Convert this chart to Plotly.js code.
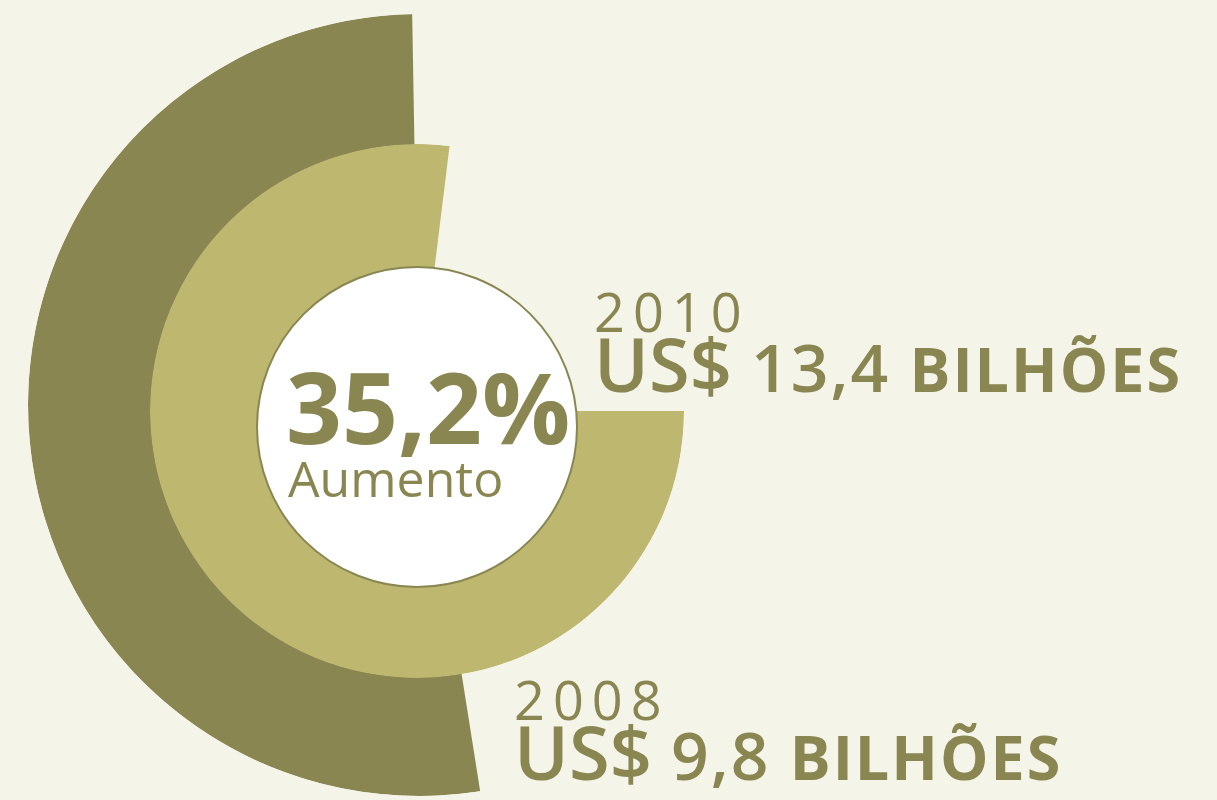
<!DOCTYPE html>
<html>
<head>
<meta charset="utf-8">
<script src="https://cdn.plot.ly/plotly-3.0.1.min.js"></script>
<style>
  html, body { margin: 0; padding: 0; background: #F4F4E9; }
  #chart { width: 1217px; height: 800px; }
</style>
</head>
<body>
<div id="chart"></div>
<script>
// ---- data ----
const years = ['2008', '2010'];
const valuesBillions = [9.8, 13.4];
const amountLabels = ['9,8', '13,4'];
const currencyLabel = 'US$';
const unitLabel = 'BILHÕES';
const sweepDegrees = [188, 277];      // angular extent of each arc
const increaseLabel = '35,2%';
const increaseCaption = 'Aumento';

// ---- styles ----
const darkOlive = '#8A8652';
const lightOlive = '#BDB770';
const bg = '#F4F4E9';
const font = 'Open Sans, Noto Sans, sans-serif';

const hiddenRadial = { visible: false, range: [0, 1] };

const traces = [
  {
    type: 'barpolar',
    subplot: 'polar',
    name: years[0],
    r: [1],
    base: [0],
    theta: [sweepDegrees[0] / 2],
    width: [sweepDegrees[0]],
    customdata: [valuesBillions[0]],
    marker: { color: darkOlive, line: { width: 0 } },
    hoverinfo: 'skip'
  },
  {
    type: 'barpolar',
    subplot: 'polar2',
    name: years[1],
    r: [1],
    base: [0],
    theta: [sweepDegrees[1] / 2],
    width: [sweepDegrees[1]],
    customdata: [valuesBillions[1]],
    marker: { color: lightOlive, line: { width: 0 } },
    hoverinfo: 'skip'
  },
  {
    type: 'scatterpolar',
    subplot: 'polar3',
    r: [], theta: [],
    mode: 'markers',
    hoverinfo: 'skip'
  }
];

function valueText(i) {
  return '<span style="font-size:74px;font-weight:600">' + currencyLabel + '</span>' +
         '<span style="font-size:66px;font-weight:600;letter-spacing:2px"> ' + amountLabels[i] + ' </span>' +
         '<span style="font-size:61px;font-weight:700;letter-spacing:2px">' + unitLabel + '</span>';
}

const annotations = [
  { text: '<b>' + increaseLabel + '</b>', x: 284 / 1217, y: 0.492, font: { size: 98, color: darkOlive, family: font } },
  { text: increaseCaption, x: 286 / 1217, y: 0.402, font: { size: 50, color: darkOlive, family: font } },
  { text: '<span style="letter-spacing:8px">' + years[1] + '</span>', x: 592 / 1217, y: 0.611, font: { size: 54, color: darkOlive, family: font, weight: 400 } },
  { text: valueText(1), x: 592 / 1217, y: 0.546, font: { size: 62, color: darkOlive, family: font } },
  { text: '<span style="letter-spacing:8px">' + years[0] + '</span>', x: 512 / 1217, y: 0.126, font: { size: 54, color: darkOlive, family: font, weight: 400 } },
  { text: valueText(0), x: 512 / 1217, y: 0.061, font: { size: 62, color: darkOlive, family: font } }
].map(a => Object.assign({ xref: 'paper', yref: 'paper', xanchor: 'left', yanchor: 'middle', showarrow: false, align: 'left' }, a));

const layout = {
  width: 1217,
  height: 800,
  margin: { l: 0, r: 0, t: 0, b: 0 },
  paper_bgcolor: bg,
  plot_bgcolor: bg,
  showlegend: false,
  font: { family: font, color: darkOlive },
  polar: {
    domain: { x: [28 / 1217, 810 / 1217], y: [4 / 800, 786 / 800] },
    bgcolor: 'rgba(0,0,0,0)',
    radialaxis: hiddenRadial,
    angularaxis: { visible: false, rotation: 91, direction: 'counterclockwise' }
  },
  polar2: {
    domain: { x: [150 / 1217, 684 / 1217], y: [122 / 800, 656 / 800] },
    bgcolor: 'rgba(0,0,0,0)',
    radialaxis: hiddenRadial,
    angularaxis: { visible: false, rotation: 0, direction: 'clockwise' }
  },
  polar3: {
    domain: { x: [257 / 1217, 577 / 1217], y: [213 / 800, 533 / 800] },
    bgcolor: '#FFFFFF',
    radialaxis: hiddenRadial,
    angularaxis: {
      visible: true, showline: true, linecolor: darkOlive, linewidth: 2,
      showgrid: false, showticklabels: false, ticks: ''
    }
  },
  annotations: annotations
};

Plotly.newPlot('chart', traces, layout, { displayModeBar: false, staticPlot: true });
</script>
</body>
</html>
